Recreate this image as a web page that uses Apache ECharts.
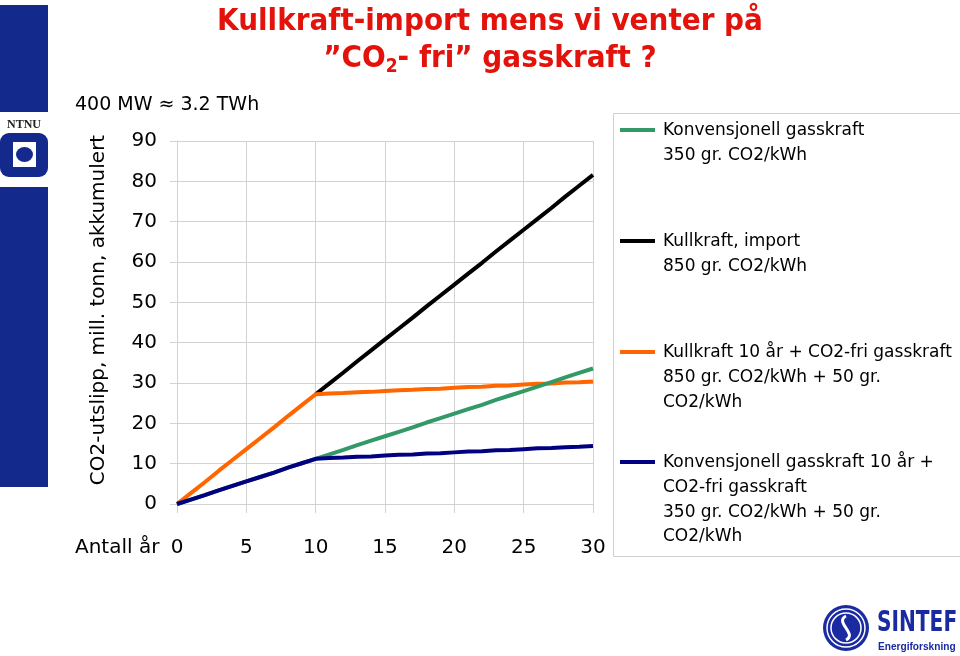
<!DOCTYPE html>
<html><head><meta charset="utf-8">
<script src="https://cdn.jsdelivr.net/npm/echarts@6/dist/echarts.min.js"></script>
<style>html,body{margin:0;padding:0;background:#fff}#c{width:960px;height:656px}</style>
</head><body><div id="c"></div>
<script>
// ---- data ----
const years = [0,1,2,3,4,5,6,7,8,9,10,11,12,13,14,15,16,17,18,19,20,21,22,23,24,25,26,27,28,29,30];
const gasConv = [0,1.1,2.2,3.4,4.5,5.6,6.7,7.8,9.0,10.1,11.2,12.3,13.4,14.6,15.7,16.8,17.9,19.0,20.2,21.3,22.4,23.5,24.6,25.8,26.9,28.0,29.1,30.2,31.4,32.5,33.6];
const coalImport = [null,null,null,null,null,null,null,null,null,null,27.2,29.9,32.6,35.4,38.1,40.8,43.5,46.2,49.0,51.7,54.4,57.1,59.8,62.6,65.3,68.0,70.7,73.4,76.2,78.9,81.6];
const coalThenFree = [0,2.7,5.4,8.2,10.9,13.6,16.3,19.0,21.8,24.5,27.2,27.4,27.5,27.7,27.8,28.0,28.2,28.3,28.5,28.6,28.8,29.0,29.1,29.3,29.4,29.6,29.8,29.9,30.1,30.2,30.4];
const gasThenFree = [0,1.1,2.2,3.4,4.5,5.6,6.7,7.8,9.0,10.1,11.2,11.4,11.5,11.7,11.8,12.0,12.2,12.3,12.5,12.6,12.8,13.0,13.1,13.3,13.4,13.6,13.8,13.9,14.1,14.2,14.4];
const seriesNames = ["Konvensjonell gasskraft", "Kullkraft, import", "Kullkraft 10 år + CO2-fri gasskraft", "Konvensjonell gasskraft 10 år + CO2-fri gasskraft"];
const legendTexts = [
  "Konvensjonell gasskraft\n350 gr. CO2/kWh",
  "Kullkraft, import\n850 gr. CO2/kWh",
  "Kullkraft 10 år + CO2-fri gasskraft\n850 gr. CO2/kWh + 50 gr.\nCO2/kWh",
  "Konvensjonell gasskraft 10 år +\nCO2-fri gasskraft\n350 gr. CO2/kWh + 50 gr.\nCO2/kWh"
];
const titleLine1 = "Kullkraft-import mens vi venter på";
const titleLine2 = "”CO{sub|2}- fri” gasskraft ?";
const yAxisName = "CO2-utslipp, mill. tonn, akkumulert";
const xAxisName = "Antall år";
const noteText = "400 MW ≈ 3.2 TWh";

// ---- style ----
const colors = ["#339966", "#000000", "#FF6600", "#000080"];
const gridColor = "#d2d2d2";
const font = "'DejaVu Sans', 'Noto Sans', sans-serif";
const titleFont = "'Liberation Sans Narrow', 'DejaVu Sans Condensed', 'Noto Sans', sans-serif";
const ntnuBlue = "#14298c";
const sintefBlue = "#1a2aa0";

function pairs(arr){ return years.map((y,i)=>[y, arr[i]]); }
const seriesData = [gasConv, coalImport, coalThenFree, gasThenFree];
const drawOrder = [1, 2, 0, 3];

const chart = echarts.init(document.getElementById('c'), null, {renderer:'canvas'});

const legendY = [131, 242, 353, 463];
const legendGraphics = [];
legendGraphics.push({type:'rect', shape:{x:613.5,y:113.5,width:360,height:443}, style:{fill:'#fff', stroke:'#d0d0d0', lineWidth:1}, z:1});
legendTexts.forEach((t,i)=>{
  legendGraphics.push({type:'line', shape:{x1:620,y1:legendY[i]-1,x2:655,y2:legendY[i]-1}, style:{stroke:colors[i], lineWidth:4}, z:2});
  legendGraphics.push({type:'text', x:663, y:legendY[i]-12.3, style:{text:t, font:"17px "+font, fill:'#000', lineHeight:24.6, verticalAlign:'top', align:'left'}, z:2});
});

const logoGraphics = [
  // NTNU
  {type:'rect', shape:{x:0,y:5,width:48,height:107}, style:{fill:ntnuBlue}},
  {type:'text', x:24, y:125, style:{text:'NTNU', font:"bold 12px 'Liberation Serif', serif", fill:'#222', align:'center', verticalAlign:'middle'}},
  {type:'rect', shape:{x:0,y:133,width:48,height:44,r:9}, style:{fill:ntnuBlue}},
  {type:'rect', shape:{x:13,y:142,width:23,height:25}, style:{fill:'#fff'}},
  {type:'circle', shape:{cx:0,cy:0,r:8}, x:24.5, y:154.5, scaleX:1.06, scaleY:0.94, style:{fill:ntnuBlue}},
  {type:'rect', shape:{x:0,y:187,width:48,height:300}, style:{fill:ntnuBlue}},
  // SINTEF
  {type:'circle', shape:{cx:846,cy:628,r:23}, style:{fill:sintefBlue}},
  {type:'circle', shape:{cx:846,cy:628,r:19}, style:{fill:'none', stroke:'#fff', lineWidth:1.5}},
  {type:'circle', shape:{cx:846,cy:628,r:15}, style:{fill:'none', stroke:'#fff', lineWidth:1.5}},
  {type:'bezierCurve', shape:{x1:846,y1:616,cpx1:834,cpy1:622,cpx2:858,cpy2:634,x2:846,y2:640}, style:{fill:'none', stroke:'#fff', lineWidth:3}},
  {type:'text', x:877, y:624, scaleX:0.8, style:{text:'SINTEF', font:"bold 28px "+titleFont, fill:sintefBlue, stroke:'#fff', lineWidth:0.6, align:'left', verticalAlign:'middle'}},
  {type:'text', x:878, y:647, scaleX:0.92, style:{text:'Energiforskning', font:"bold 11px 'Liberation Sans', sans-serif", fill:sintefBlue, align:'left', verticalAlign:'middle'}}
];

const option = {
  animation:false,
  backgroundColor:'#fff',
  title:{
    text: titleLine1 + "\n" + titleLine2,
    left: 485, top: -2, textAlign:'center',
    textStyle:{
      fontFamily:titleFont,
      fontWeight:'bold', fontSize:31, color:'#E3120B', lineHeight:37,
      rich:{ sub:{fontFamily:titleFont, fontWeight:'bold', fontSize:19, color:'#E3120B', verticalAlign:'bottom', padding:[14,0,0,0], lineHeight:37} }
    }
  },
  grid:{left:177, top:141, right:367, bottom:152},
  xAxis:{
    type:'value', min:0, max:30, interval:5,
    axisLine:{show:true, lineStyle:{color:gridColor}},
    axisTick:{show:true, length:9, lineStyle:{color:gridColor}},
    splitLine:{show:true, lineStyle:{color:gridColor}},
    axisLabel:{color:'#000', fontSize:20, fontFamily:font, margin:34}
  },
  yAxis:{
    type:'value', min:0, max:90, interval:10,
    axisLine:{show:true, lineStyle:{color:gridColor}},
    axisTick:{show:true, length:7, lineStyle:{color:gridColor}},
    splitLine:{show:true, lineStyle:{color:gridColor}},
    axisLabel:{color:'#000', fontSize:20, fontFamily:font, margin:20}
  },
  series: drawOrder.map((k,j)=>({
    name:seriesNames[k], type:'line', data:pairs(seriesData[k]), showSymbol:false, symbol:'none',
    lineStyle:{color:colors[k], width:4}, z:2+j, connectNulls:false
  })),
  graphic:[
    ...legendGraphics,
    ...logoGraphics,
    {type:'text', x:99, y:310, rotation:Math.PI/2, style:{text:yAxisName, font:"20px "+font, fill:'#000', align:'center', verticalAlign:'middle'}},
    {type:'text', x:75, y:105, style:{text:noteText, font:"19px "+font, fill:'#000', align:'left', verticalAlign:'middle'}},
    {type:'text', x:75, y:548, style:{text:xAxisName, font:"20px "+font, fill:'#000', align:'left', verticalAlign:'middle'}}
  ]
};
chart.setOption(option);
</script></body></html>
